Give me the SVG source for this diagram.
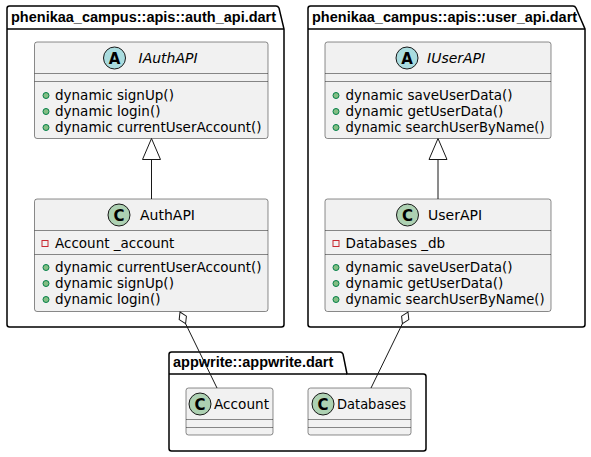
<svg xmlns="http://www.w3.org/2000/svg" width="591" height="457" viewBox="0 0 591 457">
<style>
.pkg{fill:#FFFFFF;stroke:#000000;stroke-width:1.5}
.ptitle{font-family:"Liberation Sans",Arial,sans-serif;font-weight:bold;font-size:14.5px;fill:#000}
.cls{fill:#F1F1F1;stroke:#181818;stroke-width:0.5}
.sep{stroke:#181818;stroke-width:0.5}
.cname{font-family:"DejaVu Sans",sans-serif;font-size:14px;fill:#000}
.mem{font-family:"DejaVu Sans",sans-serif;font-size:13.5px;fill:#000}
.cC{fill:#ADD1B2;stroke:#181818;stroke-width:1}
.cA{fill:#A9DCDF;stroke:#181818;stroke-width:1}
.letter{font-family:"DejaVu Sans",sans-serif;font-weight:bold;font-size:15px;fill:#000;text-anchor:middle}
.pub{fill:#84BE84;stroke:#038048;stroke-width:1}
.priv{fill:none;stroke:#C82930;stroke-width:1}
.edge{fill:none;stroke:#181818;stroke-width:1}
.tri{fill:#FFFFFF;stroke:#181818;stroke-width:1}
</style>
<g id="pkg-auth">
<path class="pkg" d="M9.5,6 L276,6 Q278,6 279,8 L284,29 L284,324.5 Q284,327 281.5,327 L9.5,327 Q7,327 7,324.5 L7,8.5 Q7,6 9.5,6 Z"/>
<line class="pkg" x1="7" y1="29" x2="284" y2="29"/>
<text class="ptitle" x="11" y="22">phenikaa_campus::apis::auth_api.dart</text>
</g>
<g id="pkg-user">
<path class="pkg" d="M310.5,6 L573,6 Q575,6 576,8 L585,29 L585,324.5 Q585,327 582.5,327 L310.5,327 Q308,327 308,324.5 L308,8.5 Q308,6 310.5,6 Z"/>
<line class="pkg" x1="308" y1="29" x2="585" y2="29"/>
<text class="ptitle" x="312" y="22">phenikaa_campus::apis::user_api.dart</text>
</g>
<g id="pkg-appwrite">
<path class="pkg" d="M171.5,352 L340,352 Q342,352 343,354 L347,374 L423.5,374 Q426,374 426,376.5 L426,448.5 Q426,451 423.5,451 L171.5,451 Q169,451 169,448.5 L169,354.5 Q169,352 171.5,352 Z"/>
<line class="pkg" x1="169" y1="374" x2="347" y2="374"/>
<text class="ptitle" x="173" y="367">appwrite::appwrite.dart</text>
</g>
<g id="IAuthAPI">
<rect class="cls" x="34.5" y="42" width="233.5" height="96.5" rx="2.5"/>
<circle class="cA" cx="114.5" cy="58" r="11"/>
<text class="letter" x="114.5" y="63.5">A</text>
<text class="cname" x="138.5" y="63" font-style="italic">IAuthAPI</text>
<line class="sep" x1="34.5" y1="73.5" x2="268" y2="73.5"/>
<line class="sep" x1="34.5" y1="81.5" x2="268" y2="81.5"/>
<circle class="pub" cx="46" cy="95.5" r="3"/>
<text class="mem" x="55" y="100">dynamic signUp()</text>
<circle class="pub" cx="46" cy="111.5" r="3"/>
<text class="mem" x="55" y="116">dynamic login()</text>
<circle class="pub" cx="46" cy="127.5" r="3"/>
<text class="mem" x="55" y="132">dynamic currentUserAccount()</text>
</g>
<g id="AuthAPI">
<rect class="cls" x="34.5" y="199" width="233.5" height="112.5" rx="2.5"/>
<circle class="cC" cx="119" cy="215" r="11"/>
<text class="letter" x="119" y="220.5">C</text>
<text class="cname" x="140" y="220">AuthAPI</text>
<line class="sep" x1="34.5" y1="230.5" x2="268" y2="230.5"/>
<rect class="priv" x="42" y="240.5" width="6" height="6"/>
<text class="mem" x="55" y="248">Account _account</text>
<line class="sep" x1="34.5" y1="254.5" x2="268" y2="254.5"/>
<circle class="pub" cx="46" cy="267.5" r="3"/>
<text class="mem" x="55" y="272">dynamic currentUserAccount()</text>
<circle class="pub" cx="46" cy="283.5" r="3"/>
<text class="mem" x="55" y="288">dynamic signUp()</text>
<circle class="pub" cx="46" cy="299.5" r="3"/>
<text class="mem" x="55" y="304">dynamic login()</text>
</g>
<g id="IUserAPI">
<rect class="cls" x="325" y="42" width="226" height="96.5" rx="2.5"/>
<circle class="cA" cx="407" cy="58" r="11"/>
<text class="letter" x="407" y="63.5">A</text>
<text class="cname" x="427" y="63" font-style="italic">IUserAPI</text>
<line class="sep" x1="325" y1="73.5" x2="551" y2="73.5"/>
<line class="sep" x1="325" y1="81.5" x2="551" y2="81.5"/>
<circle class="pub" cx="336" cy="95.5" r="3"/>
<text class="mem" x="345.5" y="100">dynamic saveUserData()</text>
<circle class="pub" cx="336" cy="111.5" r="3"/>
<text class="mem" x="345.5" y="116">dynamic getUserData()</text>
<circle class="pub" cx="336" cy="127.5" r="3"/>
<text class="mem" x="345.5" y="132" textLength="199" lengthAdjust="spacingAndGlyphs">dynamic searchUserByName()</text>
</g>
<g id="UserAPI">
<rect class="cls" x="325" y="199" width="226" height="112.5" rx="2.5"/>
<circle class="cC" cx="407.5" cy="215" r="11"/>
<text class="letter" x="407.5" y="220.5">C</text>
<text class="cname" x="428" y="220">UserAPI</text>
<line class="sep" x1="325" y1="230.5" x2="551" y2="230.5"/>
<rect class="priv" x="333" y="240.5" width="6" height="6"/>
<text class="mem" x="345.5" y="248">Databases _db</text>
<line class="sep" x1="325" y1="254.5" x2="551" y2="254.5"/>
<circle class="pub" cx="336" cy="267.5" r="3"/>
<text class="mem" x="345.5" y="272">dynamic saveUserData()</text>
<circle class="pub" cx="336" cy="283.5" r="3"/>
<text class="mem" x="345.5" y="288">dynamic getUserData()</text>
<circle class="pub" cx="336" cy="299.5" r="3"/>
<text class="mem" x="345.5" y="304" textLength="199" lengthAdjust="spacingAndGlyphs">dynamic searchUserByName()</text>
</g>
<g id="Account">
<rect class="cls" x="186" y="388" width="87" height="47" rx="2.5"/>
<circle class="cC" cx="200" cy="404" r="11"/>
<text class="letter" x="200" y="409.5">C</text>
<text class="cname" x="214" y="409" textLength="55" lengthAdjust="spacingAndGlyphs">Account</text>
<line class="sep" x1="186" y1="419.5" x2="273" y2="419.5"/>
<line class="sep" x1="186" y1="427.5" x2="273" y2="427.5"/>
</g>
<g id="Databases">
<rect class="cls" x="308" y="388" width="103" height="47" rx="2.5"/>
<circle class="cC" cx="323" cy="404" r="11"/>
<text class="letter" x="323" y="409.5">C</text>
<text class="cname" x="337" y="409" textLength="69" lengthAdjust="spacingAndGlyphs">Databases</text>
<line class="sep" x1="308" y1="419.5" x2="411" y2="419.5"/>
<line class="sep" x1="308" y1="427.5" x2="411" y2="427.5"/>
</g>
<g id="connectors">
<line class="edge" x1="151.5" y1="159.5" x2="151.5" y2="199"/>
<polygon class="tri" points="151.5,138.5 142.5,159.5 160.5,159.5"/>
<line class="edge" x1="438" y1="159.5" x2="438" y2="199"/>
<polygon class="tri" points="438,138.5 429,159.5 447,159.5"/>
<line class="edge" x1="185.6" y1="323.7" x2="217" y2="388"/>
<path class="tri" d="M0,0 L6.5,-4 L13,0 L6.5,4 Z" transform="translate(180,312) rotate(64.5)"/>
<line class="edge" x1="402.4" y1="323.7" x2="371" y2="388"/>
<path class="tri" d="M0,0 L6.5,-4 L13,0 L6.5,4 Z" transform="translate(408,312) rotate(115.5)"/>
</g>
</svg>
